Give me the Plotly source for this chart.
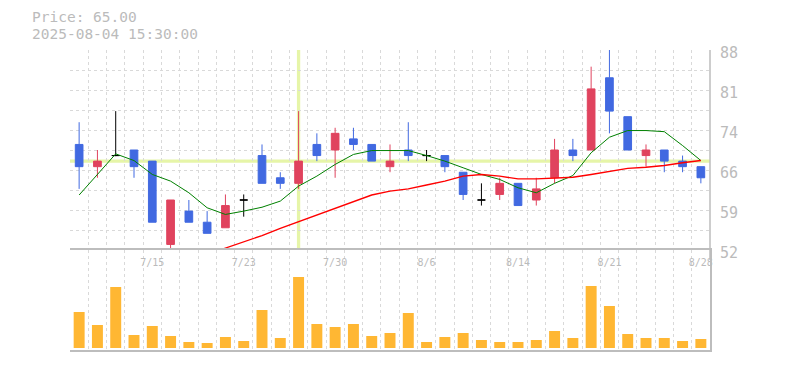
import plotly.graph_objects as go

dates = ["7/9", "7/10", "7/11", "7/14", "7/15", "7/16", "7/17", "7/18", "7/22", "7/23",
         "7/24", "7/25", "7/28", "7/29", "7/30", "7/31", "8/1", "8/4", "8/5", "8/6",
         "8/7", "8/8", "8/12", "8/13", "8/14", "8/15", "8/18", "8/19", "8/20", "8/21",
         "8/22", "8/25", "8/26", "8/27", "8/28"]
opens = [71, 67, 69, 70, 68, 53, 59, 57, 56, 61, 69, 65, 64, 71, 70, 72, 71, 67, 70, 69,
         69, 66, 61, 62, 64, 61, 65, 70, 70, 83, 76, 69, 70, 68, 67]
highs = [75, 70, 77, 70, 68, 61, 61, 59, 62, 62, 71, 66, 77, 73, 74, 74, 71, 71, 75, 70,
         69, 66, 64, 65, 64, 65, 72, 72, 85, 88, 76, 71, 70, 69, 67]
lows = [63, 65, 68.9, 65, 57, 52, 57, 55, 56, 58, 64, 63, 63, 68, 65, 70, 68, 66, 68, 68,
        66, 61, 60, 61, 60, 60, 64, 68, 70, 73, 70, 67, 66, 66, 64]
closes = [67, 68, 69, 67, 57, 61, 57, 55, 60, 61, 64, 64, 68, 69, 73, 71, 68, 68, 69, 69,
          67, 62, 61, 64, 60, 63, 70, 69, 81, 77, 70, 70, 68, 67, 65]
volumes = [36, 23, 61, 13, 22, 12, 6, 5, 11, 7, 38, 10, 71, 24, 21, 24, 12, 15, 35, 6,
           11, 15, 8, 6, 6, 8, 17, 10, 62, 42, 14, 10, 10, 7, 9]
ma_short = [61.9, 65.6, 69.3, 68.1, 65.6, 64.4, 62.3, 59.6, 58.4, 59.0, 59.7, 60.8, 63.5,
            65.3, 67.4, 69.2, 69.9, 69.9, 69.9, 69.0, 68.0, 66.8, 65.6, 64.7, 63.2, 62.3,
            64.0, 65.4, 69.5, 72.3, 73.5, 73.5, 73.3, 70.8, 68.1]
ma_long = [None] * 7 + [51.2, 52.3, 53.5, 54.6, 55.9, 57.1, 58.3, 59.4, 60.7, 61.9, 62.6,
                        63.0, 63.7, 64.4, 65.3, 65.6, 65.3, 64.8, 64.8, 64.9, 65.1, 65.6,
                        66.2, 66.7, 66.9, 67.2, 67.7, 68.1]
label_dates = ["7/15", "7/23", "7/30", "8/6", "8/14", "8/21", "8/28"]
price_ticks = [52 + 3.6 * k for k in range(11)]
price_labels = [str(round(v)) if k % 2 == 0 else "" for k, v in enumerate(price_ticks)]
cross_date = "7/28"
cross_price = 68
info_lines = ["Price: 65.00", "2025-08-04 15:30:00"]

RED = "#e0435e"
BLUE = "#4169e1"
ORANGE = "#ffb733"
GRID = "#d9d9d9"
AXIS = "#bdbdbd"
TXT = "#bbbbbb"
MONO = "DejaVu Sans Mono"

xs = list(range(len(dates)))
fig = go.Figure()


def add_candles(idx, color):
    fig.add_trace(go.Candlestick(
        x=[xs[i] for i in idx], open=[opens[i] for i in idx], high=[highs[i] for i in idx],
        low=[lows[i] for i in idx], close=[closes[i] for i in idx],
        increasing=dict(line=dict(color=color, width=1), fillcolor=color),
        decreasing=dict(line=dict(color=color, width=1), fillcolor=color),
        whiskerwidth=0, xaxis="x", yaxis="y", showlegend=False, hoverinfo="skip"))


up = [i for i in xs if closes[i] > opens[i]]
down = [i for i in xs if closes[i] < opens[i]]
doji = [i for i in xs if closes[i] == opens[i]]
add_candles(up, RED)
add_candles(down, BLUE)
add_candles(doji, "#000000")

fig.add_trace(go.Scatter(x=xs, y=ma_short, mode="lines", line=dict(color="#008000", width=1),
                         xaxis="x", yaxis="y", showlegend=False, hoverinfo="skip"))
fig.add_trace(go.Scatter(x=xs, y=ma_long, mode="lines", line=dict(color="#ff0000", width=1.4),
                         xaxis="x", yaxis="y", showlegend=False, hoverinfo="skip"))

fig.add_trace(go.Bar(x=xs, y=[v * 1000 for v in volumes], marker=dict(color=ORANGE, line=dict(width=0)),
                     xaxis="x2", yaxis="y2", showlegend=False, hoverinfo="skip"))

half = [i - 0.5 for i in range(len(dates) + 1)]
label_pos = [dates.index(d) for d in label_dates]

# page body has an 8px margin, so the figure is 8px smaller than the window
fig.update_layout(
    width=777, height=362,
    margin=dict(l=62, r=75, t=42, b=20),
    paper_bgcolor="white", plot_bgcolor="white",
    boxgap=0.4, bargap=0.4,
    showlegend=False,
    xaxis=dict(domain=[0, 1], anchor="y", range=[-0.5, len(dates) - 0.5],
               tickmode="array", tickvals=half, showticklabels=False, ticks="",
               showgrid=True, gridcolor=GRID, griddash="3px,3px", gridwidth=1,
               zeroline=False, showline=False, rangeslider=dict(visible=False),
               fixedrange=True),
    xaxis2=dict(domain=[0, 1], anchor="y2", matches="x", side="top",
                ticklabelposition="inside", ticklabeloverflow="allow",
                tickmode="array", tickvals=label_pos,
                ticktext=label_dates, ticks="inside", ticklen=8,
                tickcolor="rgba(0,0,0,0)", showgrid=False,
                tickfont=dict(family=MONO, size=10, color=TXT),
                minor=dict(tickmode="array", tickvals=half, showgrid=True, gridcolor=GRID,
                           griddash="3px,3px", gridwidth=1, ticks=""),
                showline=True, mirror=True, linecolor=AXIS, linewidth=1.5,
                zeroline=False, rangeslider=dict(visible=False)),
    yaxis=dict(domain=[0.3, 1], anchor="x", side="right", range=[52 - 10 / (200 / 36), 88],
               tickmode="array", tickvals=price_ticks, ticktext=price_labels,
               ticks="outside", ticklen=6, tickcolor="rgba(0,0,0,0)", ticklabelshift=3,
               tickfont=dict(family=MONO, size=15, color=TXT),
               showgrid=True, gridcolor=GRID, griddash="3px,3px", gridwidth=1,
               showline=False, zeroline=False),
    yaxis2=dict(domain=[0, 1 / 3], anchor="x2", side="right", range=[-2000, 98000],
                showticklabels=False, ticks="", showgrid=False, zeroline=False,
                showline=True, linecolor=AXIS, linewidth=1.5),
)

# right border of price panel
fig.add_shape(type="line", xref="paper", yref="paper", x0=1, x1=1, y0=0.3, y1=1,
              line=dict(color=AXIS, width=1.5))

# crosshair
cx = dates.index(cross_date)
fig.add_shape(type="line", xref="x", yref="y", x0=cx, x1=cx, y0=52, y1=88,
              line=dict(color="#e6f5a8", width=3.3), layer="below")
fig.add_shape(type="line", xref="paper", yref="y", x0=0, x1=1, y0=cross_price, y1=cross_price,
              line=dict(color="#e6f5a8", width=3.3), layer="below")

fig.add_annotation(text=info_lines[0], xref="paper", yref="paper", x=-40 / 640, y=(300 + 33) / 300,
                   xanchor="left", yanchor="middle", showarrow=False,
                   font=dict(family=MONO, size=14.5, color=TXT))
fig.add_annotation(text=info_lines[1], xref="paper", yref="paper", x=-40 / 640, y=(300 + 16) / 300,
                   xanchor="left", yanchor="middle", showarrow=False,
                   font=dict(family=MONO, size=14.5, color=TXT))

fig.write_html("out.html")
